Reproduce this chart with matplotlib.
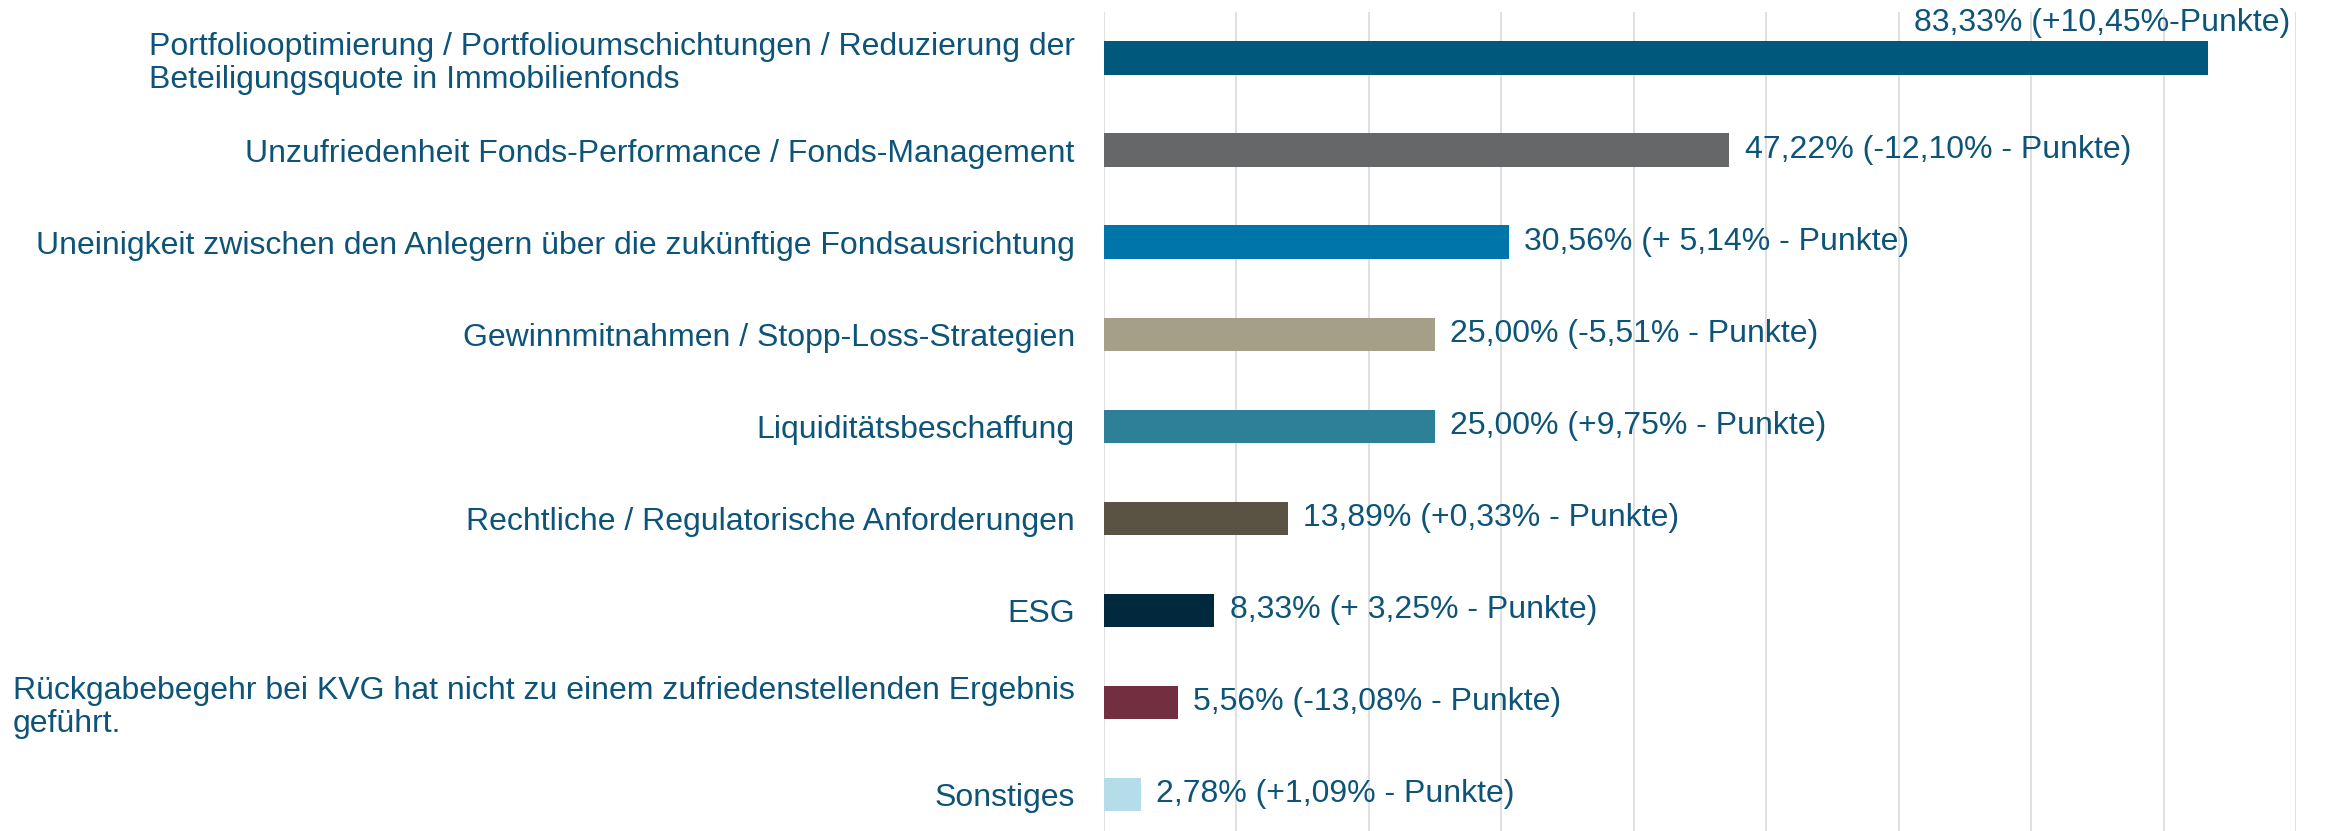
import matplotlib.pyplot as plt

categories = [
    "Portfoliooptimierung / Portfolioumschichtungen / Reduzierung der\nBeteiligungsquote in Immobilienfonds",
    "Unzufriedenheit Fonds-Performance / Fonds-Management",
    "Uneinigkeit zwischen den Anlegern über die zukünftige Fondsausrichtung",
    "Gewinnmitnahmen / Stopp-Loss-Strategien",
    "Liquiditätsbeschaffung",
    "Rechtliche / Regulatorische Anforderungen",
    "ESG",
    "Rückgabebegehr bei KVG hat nicht zu einem zufriedenstellenden Ergebnis\ngeführt.",
    "Sonstiges",
]
values = [83.33, 47.22, 30.56, 25.00, 25.00, 13.89, 8.33, 5.56, 2.78]
value_labels = [
    "83,33% (+10,45%-Punkte)",
    "47,22% (-12,10% - Punkte)",
    "30,56% (+ 5,14% - Punkte)",
    "25,00% (-5,51% - Punkte)",
    "25,00% (+9,75% - Punkte)",
    "13,89% (+0,33% - Punkte)",
    "8,33% (+ 3,25% - Punkte)",
    "5,56% (-13,08% - Punkte)",
    "2,78% (+1,09% - Punkte)",
]
colors = ["#00587c", "#666769", "#0075a9", "#a69f87", "#2e7f98",
          "#5a5343", "#00293e", "#722f40", "#b4dde9"]

text_color = "#0d5478"
fs = 23
plt.rcParams["font.family"] = ["Liberation Sans", "DejaVu Sans"]

fig = plt.figure(figsize=(23.28, 8.31), dpi=100)
ax = fig.add_axes([1104 / 2328, 0.0, (2296 - 1104) / 2328, 819 / 831])

y = list(range(len(categories)))
ax.barh(y, values, height=0.36, color=colors, zorder=2)

ax.set_xlim(0, 90)
ax.set_ylim(8.4, -0.5)
ax.set_xticks(range(0, 91, 10))
ax.xaxis.grid(True, color="#e0e0e0", linewidth=1.4, zorder=0)
ax.tick_params(axis="x", length=0, labelbottom=False)
ax.tick_params(axis="y", length=0, pad=21)
for s in ax.spines.values():
    s.set_visible(False)

ax.set_yticks(y)
ax.set_yticklabels(categories, fontsize=fs, color=text_color, multialignment="left",
                   linespacing=1.15)

for i, (v, lab) in enumerate(zip(values, value_labels)):
    if i == 0:
        # top label sits above its bar, right-aligned at the axis end
        ax.annotate(lab, xy=(90, i - 0.38), xytext=(-4, 0), textcoords="offset points",
                    ha="right", va="center", fontsize=fs, color=text_color,
                    annotation_clip=False)
    else:
        ax.annotate(lab, xy=(v, i), xytext=(11, 0), textcoords="offset points",
                    ha="left", va="center", fontsize=fs, color=text_color)

fig.savefig("out.png", dpi=100, facecolor="white")
